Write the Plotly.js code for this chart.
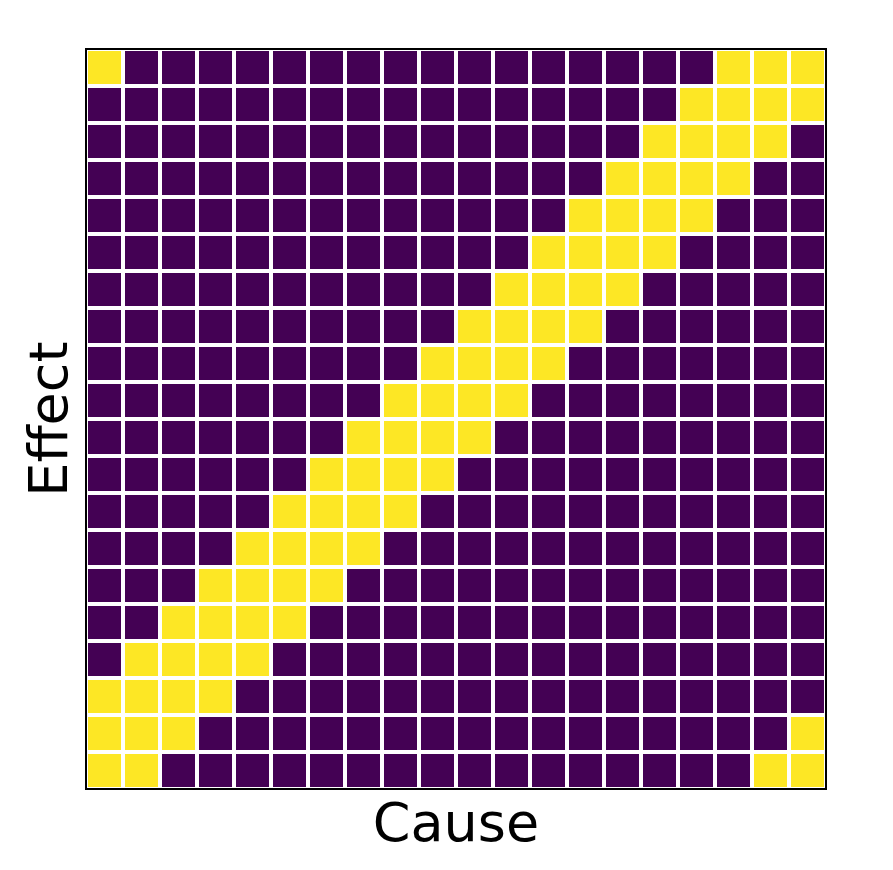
<!DOCTYPE html>
<html>
<head>
<meta charset="utf-8">
<script src="https://cdn.plot.ly/plotly-3.0.1.min.js"></script>
<style>html,body{margin:0;padding:0;background:#fff;}#chart{width:893px;height:870px;}</style>
</head>
<body>
<div id="chart"></div>
<script>
// Cause indices (x) and effect indices (y, from bottom)
const causes = [0,1,2,3,4,5,6,7,8,9,10,11,12,13,14,15,16,17,18,19];
const effects = [0,1,2,3,4,5,6,7,8,9,10,11,12,13,14,15,16,17,18,19];
// Adjacency matrix: row = effect (bottom to top), column = cause
const adjacency = [
  [1,1,0,0,0,0,0,0,0,0,0,0,0,0,0,0,0,0,1,1],
  [1,1,1,0,0,0,0,0,0,0,0,0,0,0,0,0,0,0,0,1],
  [1,1,1,1,0,0,0,0,0,0,0,0,0,0,0,0,0,0,0,0],
  [0,1,1,1,1,0,0,0,0,0,0,0,0,0,0,0,0,0,0,0],
  [0,0,1,1,1,1,0,0,0,0,0,0,0,0,0,0,0,0,0,0],
  [0,0,0,1,1,1,1,0,0,0,0,0,0,0,0,0,0,0,0,0],
  [0,0,0,0,1,1,1,1,0,0,0,0,0,0,0,0,0,0,0,0],
  [0,0,0,0,0,1,1,1,1,0,0,0,0,0,0,0,0,0,0,0],
  [0,0,0,0,0,0,1,1,1,1,0,0,0,0,0,0,0,0,0,0],
  [0,0,0,0,0,0,0,1,1,1,1,0,0,0,0,0,0,0,0,0],
  [0,0,0,0,0,0,0,0,1,1,1,1,0,0,0,0,0,0,0,0],
  [0,0,0,0,0,0,0,0,0,1,1,1,1,0,0,0,0,0,0,0],
  [0,0,0,0,0,0,0,0,0,0,1,1,1,1,0,0,0,0,0,0],
  [0,0,0,0,0,0,0,0,0,0,0,1,1,1,1,0,0,0,0,0],
  [0,0,0,0,0,0,0,0,0,0,0,0,1,1,1,1,0,0,0,0],
  [0,0,0,0,0,0,0,0,0,0,0,0,0,1,1,1,1,0,0,0],
  [0,0,0,0,0,0,0,0,0,0,0,0,0,0,1,1,1,1,0,0],
  [0,0,0,0,0,0,0,0,0,0,0,0,0,0,0,1,1,1,1,0],
  [0,0,0,0,0,0,0,0,0,0,0,0,0,0,0,0,1,1,1,1],
  [1,0,0,0,0,0,0,0,0,0,0,0,0,0,0,0,0,1,1,1]
];

const trace = {
  type: 'heatmap',
  x: causes,
  y: effects,
  z: adjacency,
  zmin: 0, zmax: 1,
  colorscale: [[0,'#440154'],[1,'#fde725']],
  showscale: false,
  xgap: 4, ygap: 4,
  hoverinfo: 'x+y+z'
};

const layout = {
  width: 893, height: 870,
  margin: {l: 86, r: 67, t: 49, b: 81, pad: 0},
  paper_bgcolor: '#ffffff',
  plot_bgcolor: '#ffffff',
  font: {family: 'DejaVu Sans, sans-serif', color: '#000'},
  xaxis: {
    range: [-0.5, 19.5], showgrid: false, zeroline: false,
    showticklabels: false, ticks: '', fixedrange: true,
    title: {text: 'Cause', font: {size: 54, color: '#000'}, standoff: 14}
  },
  yaxis: {
    range: [-0.5, 19.5], showgrid: false, zeroline: false,
    showticklabels: false, ticks: '', fixedrange: true,
    title: {text: 'Effect', font: {size: 54, color: '#000'}, standoff: 0}
  },
  shapes: [{
    type: 'rect', xref: 'paper', yref: 'paper',
    x0: 0, x1: 1, y0: 0, y1: 1,
    line: {color: '#000', width: 2}, fillcolor: 'rgba(0,0,0,0)', layer: 'above'
  }]
};

Plotly.newPlot('chart', [trace], layout, {displayModeBar: false, staticPlot: true});
</script>
</body>
</html>
